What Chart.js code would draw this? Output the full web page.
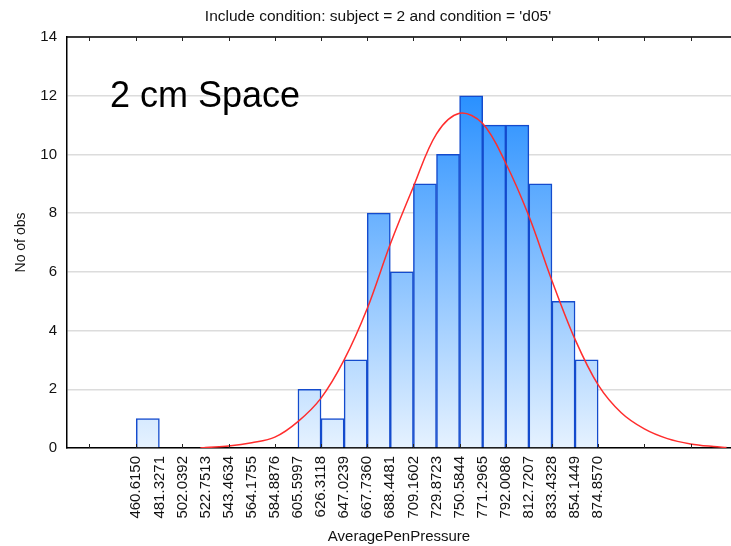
<!DOCTYPE html>
<html>
<head>
<meta charset="utf-8">
<script src="https://cdn.jsdelivr.net/npm/chart.js@4/dist/chart.umd.min.js"></script>
<style>
  html, body { margin: 0; padding: 0; background: #fff; }
  #wrap { width: 731px; height: 546px; }
</style>
</head>
<body>
<div id="wrap"><canvas id="histChart" width="731" height="546"></canvas></div>
<script>
// bin edges (also the x tick labels)
const binEdges = [460.6150, 481.3271, 502.0392, 522.7513, 543.4634, 564.1755, 584.8876,
  605.5997, 626.3118, 647.0239, 667.7360, 688.4481, 709.1602, 729.8723, 750.5844,
  771.2965, 792.0086, 812.7207, 833.4328, 854.1449, 874.8570];
// count per bin
const binCounts = [1, 0, 0, 0, 0, 0, 0, 2, 1, 3, 8, 6, 9, 10, 12, 11, 11, 9, 5, 3];
// small tick marks on top and bottom axes
const tickMarks = [418.6, 460.615, 502.0392, 543.4634, 584.8876, 626.3118, 667.736,
  709.1602, 750.5844, 792.0086, 833.4328, 874.857, 916.28, 957.70];
// expected normal curve
const curveX = [518, 522.75, 543.46, 564.18, 584.89, 605.6, 626.31, 647.02, 667.74, 688.45,
  709.16, 729.87, 750.58, 771.3, 792.01, 812.72, 833.43, 854.14, 874.86,
  895.57, 916.28, 936.99, 957.7, 978.4, 990];
const curveY = [0, 0.02, 0.07, 0.18, 0.37, 0.9, 1.7, 3.0, 4.75, 6.95,
  8.9, 10.7, 11.4, 11.05, 9.7, 7.9, 5.7, 3.7, 2.15,
  1.2, 0.65, 0.32, 0.14, 0.05, 0.02];

const SANS = '"Liberation Sans", Arial, sans-serif';
const chartTitle = "Include condition: subject = 2 and condition = 'd05'";

let barData = binCounts.map((c, i) => ({ x: (binEdges[i] + binEdges[i + 1]) / 2, y: c }));
let curveData = curveX.map((x, i) => ({ x: x, y: curveY[i] }));

// tick marks, top border, title and the text label
const extrasPlugin = {
  id: 'extras',
  afterDatasetsDraw(chart) {
    const c = chart.ctx;
    const area = chart.chartArea;
    const xs = chart.scales.x;
    c.save();
    c.strokeStyle = '#000';
    c.lineWidth = 1.5;
    c.beginPath();
    c.moveTo(area.left, area.top);
    c.lineTo(area.right, area.top);
    c.stroke();
    c.lineWidth = 1;
    c.strokeStyle = '#222';
    tickMarks.forEach(v => {
      let px = Math.round(xs.getPixelForValue(v)) + 0.5;
      c.beginPath();
      c.moveTo(px, area.bottom);
      c.lineTo(px, area.bottom - 4);
      c.moveTo(px, area.top);
      c.lineTo(px, area.top + 4);
      c.stroke();
    });
    c.fillStyle = '#000';
    c.font = '36px ' + SANS;
    c.textBaseline = 'alphabetic';
    c.textAlign = 'left';
    c.fillText('2 cm Space', 110, 107);
    c.fillStyle = '#111';
    c.font = '15.5px ' + SANS;
    c.textAlign = 'center';
    c.textBaseline = 'middle';
    c.fillText(chartTitle, 378, 17);
    c.restore();
  }
};

function barGradient(context) {
  const area = context.chart.chartArea;
  if (!area) return 'rgb(80,160,255)';
  let g = context.chart.ctx.createLinearGradient(0, area.top, 0, area.bottom);
  g.addColorStop(0, 'rgb(10,128,255)');
  g.addColorStop(1, 'rgb(230,242,255)');
  return g;
}

new Chart(document.getElementById('histChart'), {
  data: {
    datasets: [
      {
        type: 'line',
        data: curveData,
        borderColor: 'rgb(255,45,45)',
        borderWidth: 1.5,
        pointRadius: 0,
        tension: 0.35,
        order: 0
      },
      {
        type: 'bar',
        data: barData,
        backgroundColor: barGradient,
        borderColor: 'rgb(20,75,205)',
        borderWidth: 1.5,
        barPercentage: 1,
        categoryPercentage: 1,
        order: 1
      }
    ]
  },
  options: {
    responsive: false,
    animation: false,
    layout: { padding: { top: 37, left: 0, right: 0, bottom: 0 } },
    plugins: {
      legend: { display: false },
      tooltip: { enabled: false },
      title: { display: false }
    },
    scales: {
      x: {
        type: 'linear',
        offset: false,
        min: 398.48,
        max: 994,
        afterFit(scale) { scale.height = 98; },
        afterBuildTicks(scale) { scale.ticks = binEdges.map(v => ({ value: v })); },
        grid: { display: false, drawTicks: false, offset: false },
        border: { display: true, color: '#000', width: 1.5 },
        ticks: {
          autoSkip: false,
          maxRotation: 90,
          minRotation: 90,
          padding: 8,
          color: '#111',
          font: { family: SANS, size: 15 },
          callback: v => Number(v).toFixed(4)
        },
        title: {
          display: true,
          text: 'AveragePenPressure',
          color: '#111',
          font: { family: SANS, size: 15 },
          padding: { top: 0, bottom: 0 }
        }
      },
      y: {
        min: 0,
        max: 14,
        afterFit(scale) { scale.width = 67; },
        grid: { color: '#dcdcdc', lineWidth: 1.5, drawTicks: false },
        border: { display: true, color: '#000', width: 1.5 },
        ticks: {
          stepSize: 2,
          padding: 10,
          color: '#111',
          font: { family: SANS, size: 15 }
        },
        title: {
          display: true,
          text: 'No of obs',
          color: '#111',
          font: { family: SANS, size: 14 },
          padding: { top: 13, bottom: 0 }
        }
      }
    }
  },
  plugins: [extrasPlugin]
});
</script>
</body>
</html>
